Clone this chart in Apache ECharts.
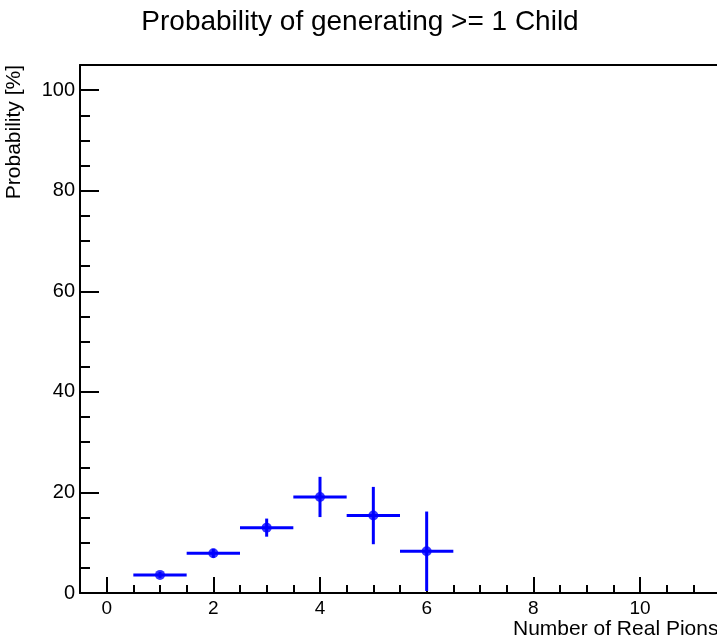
<!DOCTYPE html>
<html><head><meta charset="utf-8">
<script src="https://cdn.jsdelivr.net/npm/echarts@6/dist/echarts.min.js"></script>
<style>html,body{margin:0;padding:0;background:#fff;overflow:hidden}#c{width:717px;height:642px}</style>
</head><body><div id="c"></div>
<script>
const binCenters = [1, 2, 3, 4, 5, 6];
const probValues = [3.6, 7.9, 13.0, 19.1, 15.4, 8.3];
const probErrors = [0.6, 0.9, 1.8, 4.0, 5.7, 7.9];
const binHalfWidths = [0.5, 0.5, 0.5, 0.5, 0.5, 0.5];
const xMajorTicks = [0, 2, 4, 6, 8, 10];
const xMinorTicks = [-0.5, 0, 0.5, 1, 1.5, 2, 2.5, 3, 3.5, 4, 4.5, 5, 5.5, 6, 6.5, 7, 7.5, 8, 8.5, 9, 9.5, 10, 10.5, 11, 11.5];
const yMajorTicks = [0, 20, 40, 60, 80, 100];
const yMinorTicks = [0, 5, 10, 15, 20, 25, 30, 35, 40, 45, 50, 55, 60, 65, 70, 75, 80, 85, 90, 95, 100, 105];
const titleText = 'Probability of generating >= 1 Child';
const xTitle = 'Number of Real Pions';
const yTitle = 'Probability [%]';

const FONT = '"Liberation Sans", Arial, sans-serif';
const pts = binCenters.map((x, i) => [x, probValues[i], binHalfWidths[i], probErrors[i]]);

const chart = echarts.init(document.getElementById('c'), null, {renderer: 'canvas'});
const baseX = {type: 'value', min: -0.5, max: 11.5, position: 'bottom', splitLine: {show: false}};
const baseY = {type: 'value', min: 0, max: 105, position: 'left', splitLine: {show: false}};
chart.setOption({
  animation: false,
  backgroundColor: '#fff',
  title: {
    text: titleText, left: 355, top: 3, textAlign: 'center',
    textStyle: {fontFamily: FONT, fontSize: 28, fontWeight: 'normal', color: '#000'}
  },
  grid: {left: 80, top: 65, right: -3, bottom: 49, show: false, outerBoundsMode: 'none', containLabel: false},
  xAxis: [
    Object.assign({}, baseX, {
      axisLine: {show: true, onZero: false, lineStyle: {color: '#000', width: 2}},
      axisTick: {show: true, inside: true, length: 16, lineStyle: {color: '#000', width: 2}, customValues: xMajorTicks},
      axisLabel: {show: true, margin: 6, fontFamily: FONT, fontSize: 19, color: '#000', customValues: xMajorTicks}
    }),
    Object.assign({}, baseX, {
      axisLine: {show: false, onZero: false},
      axisTick: {show: true, inside: true, length: 8, lineStyle: {color: '#000', width: 2}, customValues: xMinorTicks},
      axisLabel: {show: false}
    }),
    Object.assign({}, baseX, {
      position: 'top',
      axisLine: {show: true, onZero: false, lineStyle: {color: '#000', width: 2}},
      axisTick: {show: false},
      axisLabel: {show: false}
    })
  ],
  yAxis: [
    Object.assign({}, baseY, {
      axisLine: {show: true, onZero: false, lineStyle: {color: '#000', width: 2}},
      axisTick: {show: true, inside: true, length: 19, lineStyle: {color: '#000', width: 2}, customValues: yMajorTicks},
      axisLabel: {show: true, margin: 5, fontFamily: FONT, fontSize: 20, color: '#000', customValues: yMajorTicks}
    }),
    Object.assign({}, baseY, {
      offset: 0,
      axisLine: {show: false, onZero: false},
      axisTick: {show: true, inside: true, length: 10, lineStyle: {color: '#000', width: 2}, customValues: yMinorTicks},
      axisLabel: {show: false}
    })
  ],
  graphic: [
    {type: 'text', x: 14, y: 65, rotation: Math.PI / 2,
     style: {text: yTitle, fontFamily: FONT, fontSize: 21, fill: '#000', textAlign: 'right', textVerticalAlign: 'middle'}},
    {type: 'text', x: 513, y: 619,
     style: {text: xTitle, fontFamily: FONT, fontSize: 21, fill: '#000', textAlign: 'left', textVerticalAlign: 'top'}}
  ],
  series: [
    {
      type: 'custom', xAxisIndex: 0, yAxisIndex: 0, data: pts, clip: true,
      renderItem: function (params, api) {
        const x = api.value(0), y = api.value(1), ex = api.value(2), ey = api.value(3);
        const l = api.coord([x - ex, y]), r = api.coord([x + ex, y]);
        const t = api.coord([x, y + ey]), b = api.coord([x, Math.max(0, y - ey)]);
        return {type: 'group', children: [
          {type: 'line', shape: {x1: l[0], y1: l[1], x2: r[0], y2: r[1]}, style: {stroke: '#0000ff', lineWidth: 3}},
          {type: 'line', shape: {x1: t[0], y1: t[1], x2: b[0], y2: b[1]}, style: {stroke: '#0000ff', lineWidth: 3}}
        ]};
      }
    },
    {
      type: 'scatter', xAxisIndex: 0, yAxisIndex: 0, symbol: 'circle', symbolSize: 10,
      itemStyle: {color: '#0000ff'},
      data: binCenters.map((x, i) => [x, probValues[i]])
    }
  ]
});
</script></body></html>
